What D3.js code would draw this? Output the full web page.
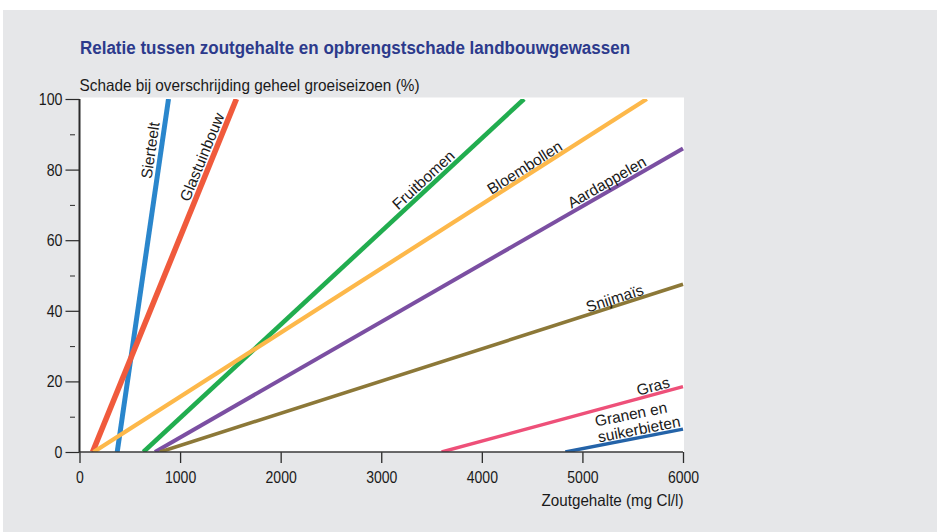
<!DOCTYPE html>
<html>
<head>
<meta charset="utf-8">
<script src="https://cdn.jsdelivr.net/npm/d3@7"></script>
<style>
  body { margin: 0; background: #ffffff; }
  svg text { font-family: "Liberation Sans", Arial, Helvetica, sans-serif; fill: #1a1a1a; }
</style>
</head>
<body>
<svg id="chart" width="937" height="532"></svg>
<script>
// Crops and their salt-damage lines: damage starts at zeroDamageAt (mg Cl/l)
// and rises linearly to (endSalt, endDamage).
const crops = ["Sierteelt", "Glastuinbouw", "Fruitbomen", "Bloembollen", "Aardappelen", "Snijmaïs", "Gras", "Granen en suikerbieten"];
const cropLabelLines = [["Sierteelt"], ["Glastuinbouw"], ["Fruitbomen"], ["Bloembollen"], ["Aardappelen"], ["Snijmaïs"], ["Gras"], ["Granen en", "suikerbieten"]];
const zeroDamageAt = [375, 130, 635, 140, 750, 800, 3600, 4830];
const endSalt      = [885, 1560, 4420, 5640, 6000, 6000, 6000, 6000];
const endDamage    = [100, 100, 100, 100, 86, 47.5, 18.5, 6.5];

const xTicks = [0, 1000, 2000, 3000, 4000, 5000, 6000];
const yTicks = [0, 20, 40, 60, 80, 100];
const yMinorTicks = [10, 30, 50, 70, 90];

const titleText = "Relatie tussen zoutgehalte en opbrengstschade landbouwgewassen";
const yTitleText = "Schade bij overschrijding geheel groeiseizoen (%)";
const xTitleText = "Zoutgehalte (mg Cl/l)";

// Styling per crop line
const lineColors = ["#2a86cc", "#f05a3c", "#21ad4f", "#fdb84a", "#7b4fa2", "#8c7838", "#ee5079", "#2463a8"];
const lineWidths = [5, 5.6, 4.6, 4.2, 4, 3.6, 3.4, 3.4];
// Label placement: fraction along the line and offset above it (px)
const labelPlacement = [
  [{ t: 0.850, off: 10.9 }],
  [{ t: 0.825, off: 10.2 }],
  [{ t: 0.752, off: 9.4 }],
  [{ t: 0.787, off: 8.2 }],
  [{ t: 0.864, off: 9 }],
  [{ t: 0.874, off: 7.8 }],
  [{ t: 0.885, off: 8.6 }],
  [{ t: 0.598, off: 24.8 }, { t: 0.640, off: 8.5 }]
];

const svg = d3.select("#chart");
const plot = { left: 79.5, right: 683, top: 99, bottom: 452 };

const x = d3.scaleLinear().domain([0, 6000]).range([plot.left, plot.right]);
const y = d3.scaleLinear().domain([0, 100]).range([plot.bottom, plot.top]);

// Panel background
svg.append("rect").attr("x", 3).attr("y", 10).attr("width", 934).attr("height", 522).attr("fill", "#e6e7e9");
svg.append("rect").attr("x", plot.left).attr("y", plot.top - 1.5)
  .attr("width", plot.right + 1 - plot.left).attr("height", plot.bottom - plot.top + 1.5)
  .attr("fill", "#ffffff");

// Title and axis titles
svg.append("text").attr("x", 80).attr("y", 53.5)
  .attr("font-size", 17.5).attr("font-weight", "bold").style("fill", "#2c3a8c")
  .attr("textLength", 550).attr("lengthAdjust", "spacingAndGlyphs")
  .text(titleText);
svg.append("text").attr("x", 79.5).attr("y", 91)
  .attr("font-size", 16.5)
  .attr("textLength", 340).attr("lengthAdjust", "spacingAndGlyphs")
  .text(yTitleText);
svg.append("text").attr("x", 683.5).attr("y", 506).attr("text-anchor", "end")
  .attr("font-size", 16.5)
  .attr("textLength", 142).attr("lengthAdjust", "spacingAndGlyphs")
  .text(xTitleText);

// Crop lines
svg.append("clipPath").attr("id", "plotClip").append("rect")
  .attr("x", plot.left).attr("y", plot.top).attr("width", plot.right + 1 - plot.left).attr("height", plot.bottom - plot.top);

const series = crops.map((name, i) => ({
  name,
  points: [[zeroDamageAt[i], 0], [endSalt[i], endDamage[i]]],
  color: lineColors[i],
  width: lineWidths[i],
  label: cropLabelLines[i],
  place: labelPlacement[i]
}));

const line = d3.line().x(d => x(d[0])).y(d => y(d[1]));

svg.append("g").attr("clip-path", "url(#plotClip)")
  .selectAll("path").data(series).join("path")
  .attr("d", d => line(d.points))
  .attr("fill", "none")
  .attr("stroke", d => d.color)
  .attr("stroke-width", d => d.width)
  .attr("stroke-linecap", "butt");

// Labels along each line
const labels = svg.append("g");
series.forEach(s => {
  const p0 = [x(s.points[0][0]), y(s.points[0][1])];
  const p1 = [x(s.points[1][0]), y(s.points[1][1])];
  const dx = p1[0] - p0[0], dy = p1[1] - p0[1];
  const len = Math.hypot(dx, dy);
  const u = [dx / len, dy / len];
  const n = [u[1], -u[0]];
  const angle = Math.atan2(dy, dx) * 180 / Math.PI;
  s.label.forEach((txt, k) => {
    const pl = s.place[k];
    const cx = p0[0] + pl.t * dx + pl.off * n[0];
    const cy = p0[1] + pl.t * dy + pl.off * n[1];
    labels.append("text")
      .attr("transform", `translate(${cx},${cy}) rotate(${angle})`)
      .attr("text-anchor", "middle")
      .attr("dy", "0.36em")
      .attr("font-size", 15.5)
      .text(txt);
  });
});

// Axes
const axisColor = "#2a2a2a";
const gy = svg.append("g").attr("transform", `translate(${plot.left},0)`)
  .call(d3.axisLeft(y).tickValues(yTicks).tickSize(14).tickPadding(3).tickFormat(d3.format("d")));
gy.select(".domain").remove();
gy.selectAll(".tick line").attr("stroke", axisColor).attr("stroke-width", 1.2);
gy.selectAll(".tick text").attr("font-size", 17).style("fill", "#1a1a1a").attr("font-family", null)
  .attr("textLength", d => String(d).length * 7.9).attr("lengthAdjust", "spacingAndGlyphs");

const gyMinor = svg.append("g").attr("transform", `translate(${plot.left - 4.5},0)`)
  .call(d3.axisLeft(y).tickValues(yMinorTicks).tickSize(5).tickFormat(""));
gyMinor.select(".domain").remove();
gyMinor.selectAll(".tick line").attr("stroke", axisColor).attr("stroke-width", 1);

const gx = svg.append("g").attr("transform", `translate(0,${plot.bottom})`)
  .call(d3.axisBottom(x).tickValues(xTicks).tickSize(11).tickPadding(8).tickFormat(d3.format("d")));
gx.select(".domain").remove();
gx.selectAll(".tick line").attr("stroke", axisColor).attr("stroke-width", 1.3);
gx.selectAll(".tick text").attr("font-size", 17).style("fill", "#1a1a1a").attr("font-family", null)
  .attr("textLength", d => String(d).length * 7.8).attr("lengthAdjust", "spacingAndGlyphs");

// Axis lines
svg.append("line").attr("x1", plot.left).attr("x2", plot.right).attr("y1", plot.bottom).attr("y2", plot.bottom)
  .attr("stroke", "#3a3a3a").attr("stroke-width", 1.4);
svg.append("line").attr("x1", plot.left).attr("x2", plot.left).attr("y1", plot.top).attr("y2", plot.bottom)
  .attr("stroke", axisColor).attr("stroke-width", 2);
</script>
</body>
</html>
